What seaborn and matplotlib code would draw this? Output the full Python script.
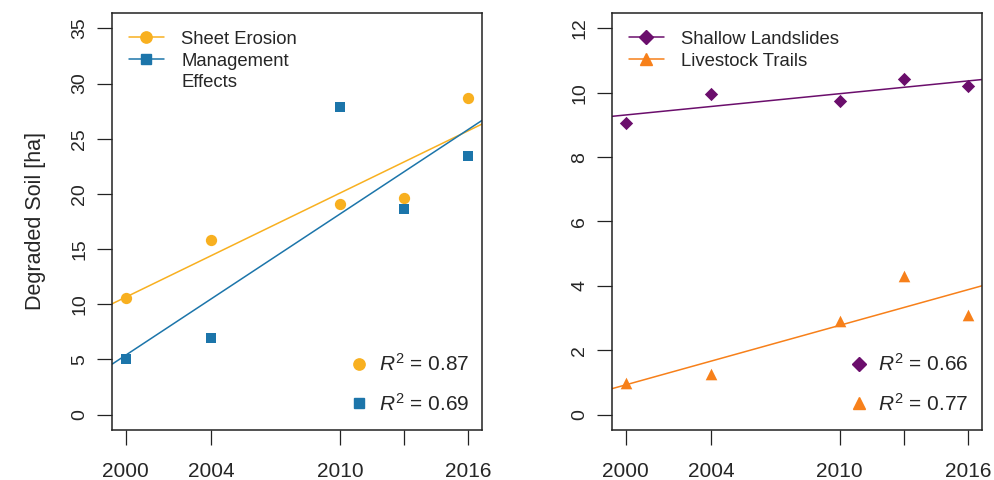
import numpy as np
import pandas as pd
import matplotlib
matplotlib.use("Agg")
import matplotlib.pyplot as plt
from matplotlib.lines import Line2D
import seaborn as sns

# data
years = [2000, 2004, 2010, 2013, 2016]
sheet_erosion = [10.6, 15.8, 19.05, 19.6, 28.7]
management = [5.05, 6.95, 27.85, 18.6, 23.45]
landslides = [9.05, 9.97, 9.75, 10.43, 10.2]
livestock = [0.98, 1.27, 2.92, 4.3, 3.1]

left_names = ["Sheet Erosion", "Management", "Effects"]
right_names = ["Shallow Landslides", "Livestock Trails"]
left_r2 = ["0.87", "0.69"]
right_r2 = ["0.66", "0.77"]

xtick_labels = ["2000", "2004", "2010", "", "2016"]

C_SHEET = "#F8B020"
C_MGMT = "#1C75AA"
C_SLIDE = "#6B0E6C"
C_TRAIL = "#F7801A"

sns.set_style("ticks")
plt.rcParams["font.family"] = ["Liberation Sans", "DejaVu Sans"]
plt.rcParams["mathtext.fontset"] = "custom"
plt.rcParams["mathtext.it"] = "Liberation Sans:italic"
plt.rcParams["mathtext.rm"] = "Liberation Sans"

fig = plt.figure(figsize=(9.94, 4.8), dpi=100)
ax1 = fig.add_axes([0.1127, 0.1042, 0.3722, 0.8687])
ax2 = fig.add_axes([0.6157, 0.1042, 0.3722, 0.8687])


def draw_panel(ax, series, colors, markers, msizes, names, r2, ymax, yticks):
    ax.set_xlim(2000 - 0.64, 2016 + 0.64)
    ax.set_ylim(-0.04 * ymax, ymax * 1.04)
    for vals, col, mk, ms in zip(series, colors, markers, msizes):
        df = pd.DataFrame({"year": years, "value": vals})
        sns.regplot(data=df, x="year", y="value", ax=ax, ci=None, truncate=False,
                    color=col, marker=mk,
                    scatter_kws={"s": ms, "linewidths": 0, "alpha": 1, "zorder": 3},
                    line_kws={"lw": 1.1, "zorder": 2})
    ax.set_xlim(2000 - 0.64, 2016 + 0.64)
    ax.set_ylim(-0.04 * ymax, ymax * 1.04)

    ax.set_xticks(years)
    ax.set_xticklabels(xtick_labels, fontsize=15)
    ax.set_yticks(yticks)
    ax.set_yticklabels([str(t) for t in yticks], fontsize=14, rotation=90, va="center")
    ax.tick_params(axis="x", length=11, width=0.9, pad=12, color="#222222")
    ax.tick_params(axis="y", length=11, width=0.9, pad=6, color="#222222")
    ax.set_xlabel("")
    ax.set_ylabel("")
    for sp in ax.spines.values():
        sp.set_visible(True)
        sp.set_linewidth(1.1)
        sp.set_color("#222222")

    # line + marker key, extra lines of a label get an empty handle
    handles = []
    for i, nm in enumerate(names):
        if i < len(colors):
            handles.append(Line2D([], [], color=colors[i], marker=markers[i],
                                  markersize=np.sqrt(msizes[i]), lw=1.1))
        else:
            handles.append(Line2D([], [], lw=0, alpha=0))
    leg1 = ax.legend(handles, names, loc="upper left", bbox_to_anchor=(0.047, 0.957),
                     frameon=False, fontsize=13.3, handlelength=1.85, handletextpad=0.95,
                     labelspacing=0.25, borderaxespad=0.0, borderpad=0.0)
    ax.add_artist(leg1)

    dots = [Line2D([], [], color=c, marker=m, markersize=np.sqrt(s), lw=0)
            for c, m, s in zip(colors, markers, msizes)]
    ax.legend(dots, [r"$R^2$ = " + v for v in r2], loc="lower right",
              bbox_to_anchor=(0.965, 0.037), frameon=False, fontsize=15,
              handlelength=1.0, handletextpad=0.45, labelspacing=0.85,
              borderaxespad=0.0, borderpad=0.0)


draw_panel(ax1, [sheet_erosion, management], [C_SHEET, C_MGMT], ["o", "s"], [66, 46],
           left_names, left_r2, 35, [0, 5, 10, 15, 20, 25, 30, 35])
draw_panel(ax2, [landslides, livestock], [C_SLIDE, C_TRAIL], ["D", "^"], [46, 70],
           right_names, right_r2, 12, [0, 2, 4, 6, 8, 10, 12])

ax1.set_ylabel("Degraded Soil [ha]", fontsize=15.5, labelpad=18)

fig.savefig("out.png", dpi=100, facecolor="white")
